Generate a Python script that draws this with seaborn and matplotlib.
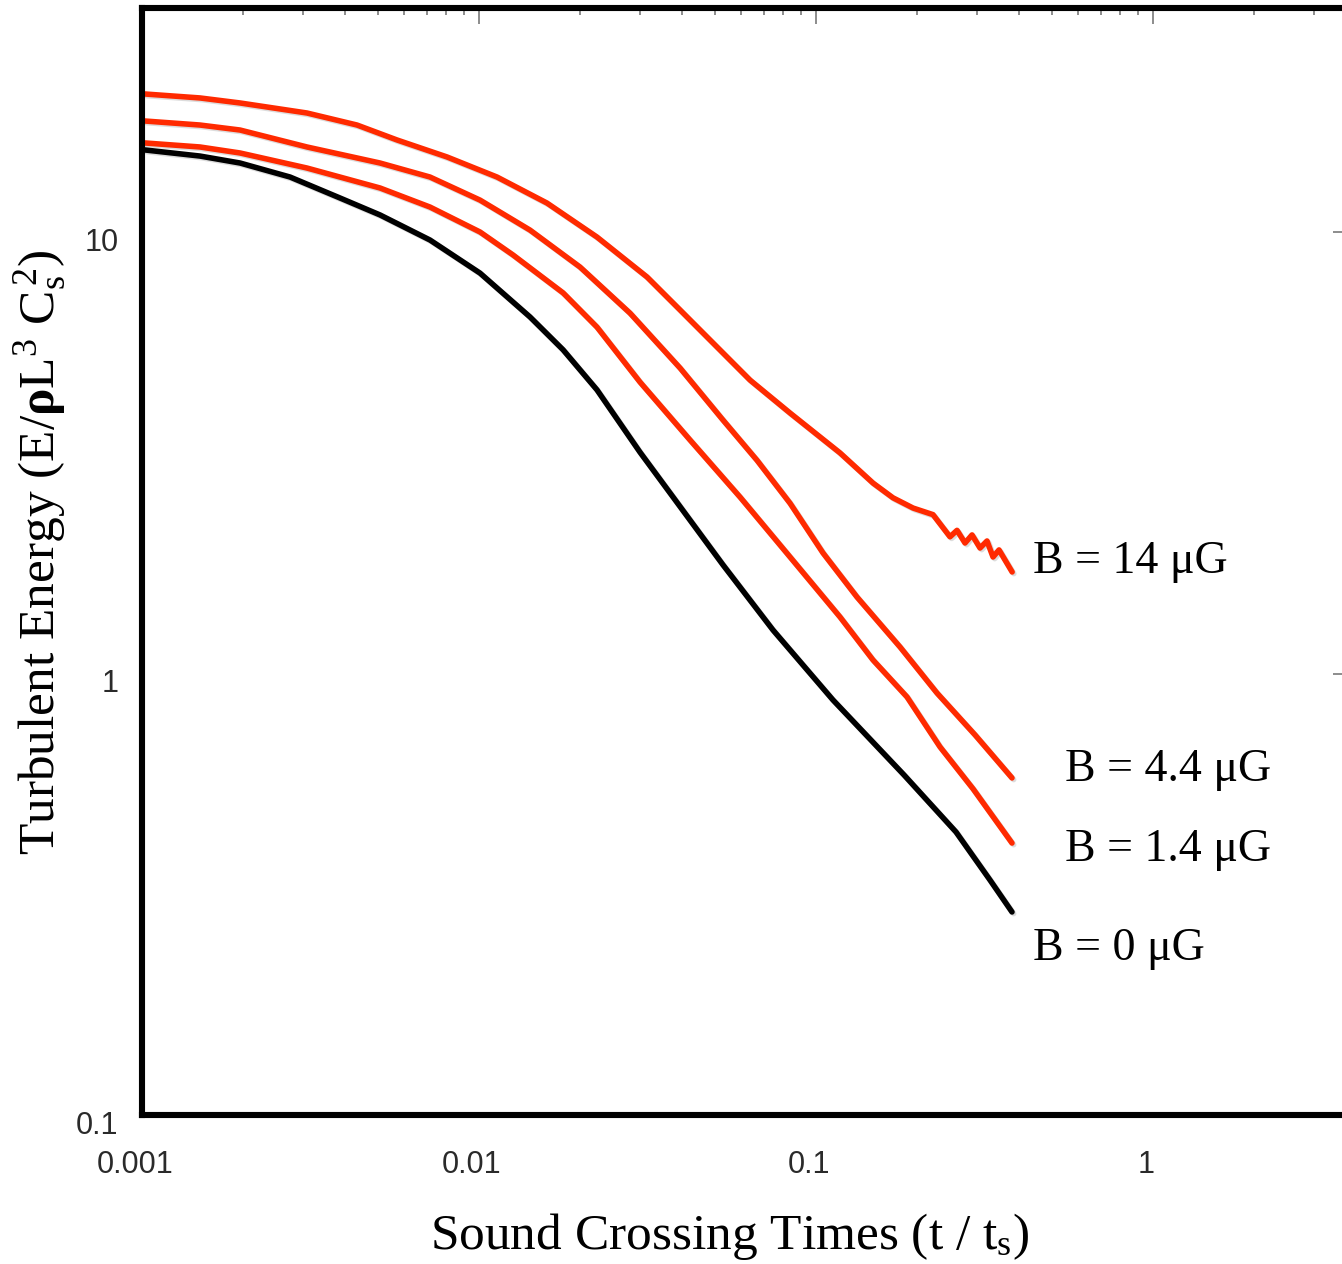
import numpy as np
import pandas as pd
import matplotlib
matplotlib.use("Agg")
import matplotlib.pyplot as plt
import matplotlib.patheffects as pe
from matplotlib.transforms import ScaledTranslation
import seaborn as sns
from matplotlib.ticker import FixedLocator, FixedFormatter, LogLocator, NullFormatter

# ---------------- data ----------------
time_b14 = [0.00102, 0.001486, 0.001954, 0.003087, 0.004345, 0.005711, 0.008036,
            0.01131, 0.01591, 0.02239, 0.03151, 0.03949, 0.0637, 0.08375, 0.1178,
            0.1476, 0.1692, 0.1941, 0.2224, 0.2498, 0.2621, 0.2768, 0.2904,
            0.3067, 0.3217, 0.3352, 0.3492, 0.382]
energy_b14 = [20.54, 20.12, 19.60, 18.60, 17.47, 16.16, 14.79,
              13.32, 11.63, 9.74, 7.91, 6.66, 4.62, 3.89, 3.16,
              2.70, 2.50, 2.37, 2.29, 2.04, 2.11, 1.975, 2.06,
              1.924, 1.996, 1.836, 1.905, 1.698]

time_b44 = [0.00102, 0.001486, 0.001954, 0.003087, 0.005085, 0.007154, 0.01007,
            0.01417, 0.01994, 0.02806, 0.03949, 0.05297, 0.06683, 0.08375, 0.1049,
            0.1323, 0.1776, 0.2286, 0.2964, 0.3816]
energy_b44 = [17.84, 17.47, 17.02, 15.58, 14.33, 13.32, 11.81,
              10.10, 8.33, 6.55, 4.92, 3.75, 3.04, 2.43, 1.875,
              1.490, 1.148, 0.903, 0.726, 0.580]

time_b14low = [0.00102, 0.001486, 0.001954, 0.003087, 0.005085, 0.007154, 0.01007,
               0.01262, 0.01776, 0.02239, 0.03005, 0.04228, 0.0595, 0.08375, 0.1178,
               0.1476, 0.1862, 0.2333, 0.2924, 0.3816]
energy_b14low = [15.91, 15.58, 15.10, 13.96, 12.58, 11.39, 10.00,
                 8.87, 7.28, 6.09, 4.57, 3.38, 2.51, 1.836, 1.343,
                 1.073, 0.885, 0.682, 0.548, 0.413]

time_b0 = [0.00102, 0.001486, 0.001954, 0.00275, 0.003869, 0.005085, 0.007154,
           0.01007, 0.01417, 0.01776, 0.02239, 0.03005, 0.03765, 0.05297, 0.07456,
           0.1123, 0.1825, 0.2603, 0.3283, 0.3816]
energy_b0 = [15.34, 14.86, 14.33, 13.32, 11.94, 10.93, 9.59,
             8.07, 6.42, 5.41, 4.39, 3.17, 2.51, 1.762, 1.254,
             0.871, 0.589, 0.4375, 0.3406, 0.2883]

series_labels = ["B = 14 μG", "B = 4.4 μG", "B = 1.4 μG", "B = 0 μG"]
series_colors = ["#ff2a00", "#ff2a00", "#ff2a00", "#000000"]

x_ticks = [0.001, 0.01, 0.1, 1]
x_tick_labels = ["0.001", "0.01", "0.1", "1"]
y_ticks = [0.1, 1, 10]
y_tick_labels = ["0.1", "1", "10"]

x_label = r"Sound Crossing Times (t / $\mathrm{t}_{\mathrm{s}}$)"
y_label = r"Turbulent Energy (E/$\mathbf{\rho}$$\mathrm{L}^{3}$ $\mathrm{C}_{\mathrm{s}}^{\,2}$)"

# ---------------- style ----------------
sns.set_theme(style="white")
plt.rcParams["font.family"] = ["Liberation Serif", "DejaVu Serif"]
plt.rcParams["mathtext.fontset"] = "custom"
plt.rcParams["mathtext.rm"] = "Liberation Serif"
plt.rcParams["mathtext.it"] = "Liberation Serif:italic"
plt.rcParams["mathtext.bf"] = "Liberation Serif:bold"

W, H = 1342, 1264
fig = plt.figure(figsize=(W / 100, H / 100), dpi=100)
fig.patch.set_facecolor("white")
ax_left, ax_right, ax_bottom, ax_top = 142, 1349, 1115, 8
ax = fig.add_axes([ax_left / W, 1 - ax_bottom / H,
                   (ax_right - ax_left) / W, (ax_bottom - ax_top) / H])
ax.set_facecolor("white")

all_times = [time_b14, time_b44, time_b14low, time_b0]
all_energy = [energy_b14, energy_b44, energy_b14low, energy_b0]

frames = []
for lab, t, e in zip(series_labels, all_times, all_energy):
    frames.append(pd.DataFrame({"time": t, "energy": e, "series": lab}))
df = pd.concat(frames, ignore_index=True)
palette = dict(zip(series_labels, series_colors))

sns.lineplot(data=df, x="time", y="energy", hue="series", palette=palette,
             hue_order=series_labels, estimator=None, sort=False,
             linewidth=4.0, legend=False, ax=ax)
for line in ax.get_lines():
    line.set_solid_joinstyle("round")
    line.set_solid_capstyle("round")
    line.set_path_effects([pe.SimpleLineShadow(offset=(1.2, -1.2),
                                               shadow_color="#777777", alpha=0.25),
                           pe.Normal()])

ax.set_xscale("log")
ax.set_yscale("log")
ax.set_xlim(0.001, 10 ** ((ax_right - ax_left) / 337 - 3))
ax.set_ylim(0.1, 10 ** ((ax_bottom - ax_top) / 441.5 - 1))

ax.xaxis.set_major_locator(FixedLocator(x_ticks))
ax.xaxis.set_major_formatter(FixedFormatter(x_tick_labels))
ax.yaxis.set_major_locator(FixedLocator(y_ticks))
ax.yaxis.set_major_formatter(FixedFormatter(y_tick_labels))
ax.xaxis.set_minor_locator(LogLocator(base=10, subs=np.arange(2, 10), numticks=20))
ax.yaxis.set_minor_locator(LogLocator(base=10, subs=np.arange(2, 10), numticks=20))
ax.xaxis.set_minor_formatter(NullFormatter())
ax.yaxis.set_minor_formatter(NullFormatter())

ax.tick_params(which="both", direction="in", top=True, right=True,
               color="#8c8c8c", width=1.4)
ax.tick_params(which="major", length=11.5)
ax.tick_params(which="minor", length=5)
ax.tick_params(axis="x", which="major", pad=25)
ax.tick_params(axis="y", which="major", pad=17)

for lbl in ax.get_xticklabels() + ax.get_yticklabels():
    lbl.set_fontfamily("Liberation Sans")
    lbl.set_fontsize(22)
    lbl.set_color("#2a2a2a")
for lbl in ax.get_xticklabels():
    lbl.set_transform(lbl.get_transform() + ScaledTranslation(-0.07, 0, fig.dpi_scale_trans))
for lbl in ax.get_yticklabels():
    lbl.set_transform(lbl.get_transform() + ScaledTranslation(0, -0.07, fig.dpi_scale_trans))

for sp in ax.spines.values():
    sp.set_visible(True)
    sp.set_color("black")
    sp.set_linewidth(4.4)

ax.grid(False)

ax.set_xlabel(x_label, fontsize=37, color="black")
ax.set_ylabel(y_label, fontsize=37, color="black")
ax.xaxis.set_label_coords((730 - ax_left) / (ax_right - ax_left),
                          (ax_bottom - 1236) / (ax_bottom - ax_top))
ax.xaxis.label.set_va("center")
ax.yaxis.set_label_coords((40 - ax_left) / (ax_right - ax_left),
                          (ax_bottom - 552) / (ax_bottom - ax_top))
ax.yaxis.label.set_va("center")

offsets = [(21, 10), (53, 8), (53, -7), (21, -37)]
for lab, t, e, off in zip(series_labels, all_times, all_energy, offsets):
    ax.annotate(lab, xy=(t[-1], e[-1]), xytext=off, textcoords="offset pixels",
                ha="left", va="center", fontsize=33, color="black",
                annotation_clip=False)

fig.savefig("out.png", dpi=100, facecolor="white")
